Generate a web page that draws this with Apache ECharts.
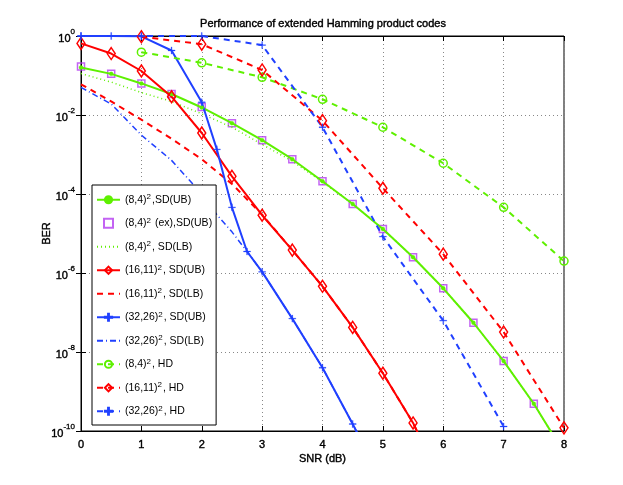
<!DOCTYPE html>
<html>
<head>
<meta charset="utf-8">
<script src="https://cdn.jsdelivr.net/npm/echarts@6/dist/echarts.min.js"></script>
<style>
  html, body { margin: 0; padding: 0; background: #fff; }
  #canvas { width: 623px; height: 485px; }
</style>
</head>
<body>
<div id="canvas"></div>
<script>
// SNR grids (dB)
var snrHalf = [0, 0.5, 1, 1.5, 2, 2.5, 3, 3.5, 4, 4.5, 5, 5.5, 6, 6.5, 7, 7.5, 8];
var snrRed = [0, 0.5, 1, 1.5, 2, 2.5, 3, 3.5, 4, 4.5, 5, 5.5, 6];
var snrBlue = [0, 0.5, 1, 1.5, 2, 2.25, 2.5, 2.75, 3, 3.5, 4, 4.5, 5];
var snrHd = [1, 2, 3, 4, 5, 6, 7, 8];
var snrHdBlue = [0, 1, 2, 3, 4, 5, 6, 7];

// BER values
var ub8 = [0.16, 0.11, 0.063, 0.034, 0.0155, 0.0062, 0.0023, 7.6e-4, 2.1e-4, 5.6e-5, 1.3e-5, 2.5e-6, 4.1e-7, 5.5e-8, 5.9e-9, 4.9e-10, 2.8e-11];
var ex8 = [0.17, 0.11, 0.063, 0.034, 0.016, 0.0062, 0.0023, 7.6e-4, 2.1e-4, 5.6e-5, 1.3e-5, 2.5e-6, 4.1e-7, 5.5e-8, 5.9e-9, 4.9e-10];
var lb8 = [0.112, 0.068, 0.037, 0.022, 0.0107, 0.0049, 0.0018, 6.8e-4, 2.0e-4, 5.6e-5, 1.3e-5, 2.5e-6, 4.1e-7, 5.5e-8, 5.9e-9, 4.9e-10, 2.8e-11];
var ub16 = [0.65, 0.36, 0.13, 0.029, 0.0035, 2.8e-4, 2.9e-5, 3.8e-6, 4.6e-7, 4.2e-8, 2.9e-9, 1.6e-10, 4e-12];
var lb16 = [0.06, 0.022, 0.0076, 0.0025, 7.6e-4, 1.8e-4, 3.0e-5, 3.8e-6, 4.6e-7, 4.2e-8, 2.9e-9, 1.6e-10, 4e-12];
var ub32 = [1, 1, 0.98, 0.43, 0.021, 1.35e-3, 4.6e-5, 3.5e-6, 1.07e-6, 7e-8, 4e-9, 1.5e-10, 5e-12];
var lb32 = [0.05, 0.019, 0.0031, 7.1e-4, 1.0e-4, 3.0e-5, 1.1e-5, 3.5e-6, 1.07e-6, 7e-8, 4e-9, 1.5e-10, 5e-12];
var hd8 = [0.39, 0.21, 0.09, 0.025, 0.0049, 6e-4, 4.6e-5, 2e-6];
var hd16 = [0.96, 0.62, 0.138, 0.0072, 1.4e-4, 3e-6, 3.2e-8, 1.2e-10];
var hd32 = [1, 1, 1, 0.59, 0.0049, 8.3e-6, 6.2e-8, 1.3e-10];

var xTicks = [0, 1, 2, 3, 4, 5, 6, 7, 8];

var GREEN = '#5ef000', RED = '#ff0000', BLUE = '#2040ff', PURPLE = '#b43cf0';
var FONT = '"Liberation Sans", Arial, sans-serif';
var PLUS = 'path://M4.4,0h1.2v4.4h4.4v1.2h-4.4v4.4h-1.2v-4.4h-4.4v-1.2h4.4z';
var SQUARE = 'path://M0,0h10v10h-10z';

function pairs(xs, ys) {
    return xs.map(function (x, i) { return [x, ys[i]]; });
}

function line(name, xs, ys, color, type, width, symbol, size, fill) {
    return {
        name: name,
        type: 'line',
        data: pairs(xs, ys),
        symbol: symbol || 'none',
        symbolSize: size || 6,
        showSymbol: !!symbol,
        lineStyle: { color: color, width: width, type: type },
        // no-marker series get an invisible item style so their legend dot vanishes
        itemStyle: symbol
            ? { color: fill || 'rgba(0,0,0,0)', borderColor: color, borderWidth: fill ? 0.3 : 1.5 }
            : { color: 'rgba(0,0,0,0)', borderColor: 'rgba(0,0,0,0)', borderWidth: 0 },
        emphasis: { disabled: true },
        animation: false
    };
}

var series = [
    line('(8,4)^2,SD(UB)', snrHalf, ub8, GREEN, 'solid', 2, 'circle', 4, GREEN),
    {
        name: '(8,4)^2 (ex),SD(UB)', type: 'scatter', data: pairs(snrHalf, ex8),
        symbol: 'rect', symbolSize: 7,
        itemStyle: { color: 'rgba(0,0,0,0)', borderColor: PURPLE, borderWidth: 1.5 },
        emphasis: { disabled: true }, animation: false
    },
    line('(8,4)^2, SD(LB)', snrHalf, lb8, GREEN, [1, 3], 1.5),
    line('(16,11)^2, SD(UB)', snrRed, ub16, RED, 'solid', 2, 'diamond', [8, 12]),
    line('(16,11)^2, SD(LB)', snrRed, lb16, RED, [6, 5], 2),
    line('(32,26)^2, SD(UB)', snrBlue, ub32, BLUE, 'solid', 2, PLUS, 7, BLUE),
    line('(32,26)^2, SD(LB)', snrBlue, lb32, BLUE, [6, 3, 1, 3], 1.5),
    line('(8,4)^2, HD', snrHd, hd8, GREEN, [6, 5], 2, 'circle', 8),
    line('(16,11)^2, HD', snrHd, hd16, RED, [6, 5], 2, 'diamond', [8, 12]),
    line('(32,26)^2, HD', snrHdBlue, hd32, BLUE, [6, 5], 2, PLUS, 7, BLUE)
];

var legendData = series.map(function (s) {
    return s.type === 'scatter' ? { name: s.name, icon: SQUARE } : { name: s.name };
});

var dom = document.getElementById('canvas');
var myChart = echarts.init(dom);
var option = {
    backgroundColor: '#fff',
    textStyle: { fontFamily: FONT },
    title: {
        text: 'Performance of extended Hamming product codes',
        left: 318, top: 13, textAlign: 'center',
        textStyle: { fontFamily: FONT, fontSize: 11, fontWeight: 'normal', color: '#000',
            textBorderColor: '#000', textBorderWidth: 0.4 }
    },
    legend: {
        orient: 'vertical',
        left: 92, top: 185,
        padding: [8, 4, 7, 4],
        itemGap: 10,
        itemWidth: 23, itemHeight: 9,
        symbolKeepAspect: true,
        backgroundColor: '#fff',
        borderColor: '#000', borderWidth: 1,
        selectedMode: false,
        data: legendData,
        formatter: function (name) { return name.replace('^2', '{s|2}'); },
        textStyle: {
            fontFamily: FONT, fontSize: 10.5, color: '#000', lineHeight: 13.5,
            rich: {
                s: { fontFamily: FONT, fontSize: 8, verticalAlign: 'top', lineHeight: 9, padding: [0, 1, 0, 0] }
            }
        }
    },
    grid: { left: 81, right: 59, top: 36, bottom: 54, show: true, borderColor: '#000', borderWidth: 1 },
    xAxis: [{
        type: 'value', min: 0, max: 8, interval: 1,
        name: 'SNR (dB)', nameLocation: 'middle', nameGap: 22, nameMoveOverlap: false,
        nameTextStyle: { fontFamily: FONT, fontSize: 11, color: '#000', textBorderColor: '#000', textBorderWidth: 0.4 },
        axisLine: { show: true, lineStyle: { color: '#000', width: 1 } },
        axisTick: { inside: true, length: 5, lineStyle: { color: '#000' } },
        axisLabel: { margin: 8, color: '#000', fontFamily: FONT, fontSize: 11,
            textBorderColor: '#000', textBorderWidth: 0.4,
            formatter: function (v) { return xTicks.indexOf(v) >= 0 ? String(v) : ''; } },
        splitLine: { show: true, lineStyle: { color: '#888', type: [1, 3], width: 1 } }
    }, {
        type: 'value', min: 0, max: 8, interval: 1, position: 'top',
        axisLine: { show: true, lineStyle: { color: '#000' } },
        axisTick: { inside: true, length: 5, lineStyle: { color: '#000' } },
        axisLabel: { show: false }, splitLine: { show: false }
    }],
    yAxis: [{
        type: 'log', logBase: 10, min: 1e-10, max: 1, interval: 2,
        name: 'BER', nameLocation: 'middle', nameGap: 29, nameMoveOverlap: false,
        nameTextStyle: { fontFamily: FONT, fontSize: 11, color: '#000', textBorderColor: '#000', textBorderWidth: 0.4 },
        axisLine: { show: true, lineStyle: { color: '#000', width: 1 } },
        axisTick: { inside: true, length: 5, lineStyle: { color: '#000' } },
        axisLabel: {
            margin: 6, color: '#000',
            formatter: function (v) {
                var e = Math.round(Math.log10(v));
                return '{b|10}{s|' + e + '}';
            },
            rich: {
                b: { fontFamily: FONT, fontSize: 11, color: '#000', lineHeight: 16, verticalAlign: 'bottom',
                    textBorderColor: '#000', textBorderWidth: 0.4 },
                s: { fontFamily: FONT, fontSize: 8, color: '#000', lineHeight: 16, verticalAlign: 'top',
                    textBorderColor: '#000', textBorderWidth: 0.3 }
            }
        },
        splitLine: { show: true, lineStyle: { color: '#888', type: [1, 3], width: 1 } }
    }, {
        type: 'log', logBase: 10, min: 1e-10, max: 1, interval: 2, position: 'right',
        axisLine: { show: true, lineStyle: { color: '#000' } },
        axisTick: { inside: true, length: 5, lineStyle: { color: '#000' } },
        axisLabel: { show: false }, splitLine: { show: false }
    }],
    series: series
};
myChart.setOption(option, true);
</script>
</body>
</html>
